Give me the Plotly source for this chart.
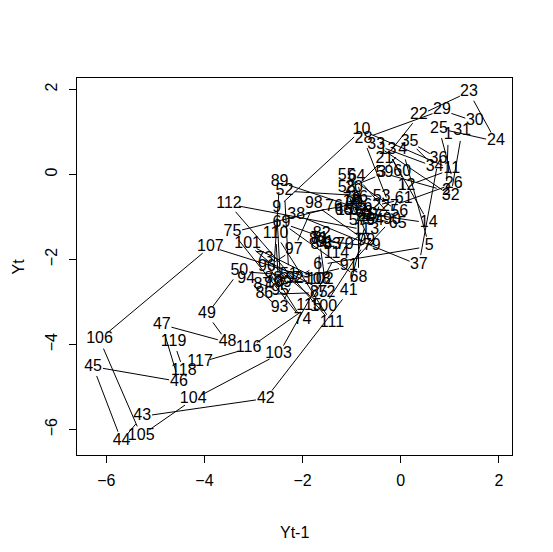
import numpy as np
import plotly.graph_objects as go

# series Y_t, t = 0..119 (label t sits at (Y_{t-1}, Y_t))
yt = [
    0.97, 0.93, -0.39, 0.04, 0.58, -1.69, -2.13, -2.45, -2.53, -0.80,
    1.04, 0.12, -0.27, 0.57, -1.14, -0.85, -0.55, -1.00, -0.65, -0.95,
    -0.33, 0.37, 1.39, 1.94, 0.78, 1.08, -0.22, -0.76, 0.84, 1.51,
    1.25, 1.02, -0.50, 0.69, 0.18, 0.77, 0.37, -2.13, -0.95, -0.70,
    -1.06, -2.75, -5.27, -5.69, -6.27, -4.52, -4.87, -3.53, -3.95, -3.29,
    -2.28, -2.37, -0.39, -0.53, -1.10, -0.03, -0.88, -1.10, -0.33, 0.03,
    0.06, -0.58, -0.75, -0.90, -0.06, -1.17, -0.86, -0.86, -2.43, -1.14,
    -1.66, -1.51, -2.78, -2.00, -3.43, -1.36, -0.77, -1.00, -0.59, -1.69,
    -1.55, -1.61, -1.40, -1.66, -1.67, -2.78, -2.82, -2.60, -2.47, -0.18,
    -1.06, -2.16, -2.47, -3.15, -2.46, -2.73, -2.18, -1.77, -0.70, -1.57,
    -3.12, -1.64, -2.49, -4.23, -5.29, -6.14, -3.88, -1.70, -2.49, -2.55,
    -1.40, -3.50, -0.70, -1.31, -1.87, -3.10, -4.09, -4.42, -4.63, -3.93,
]
lag_x = yt[:-1]
lag_y = yt[1:]
labels = [str(i) for i in range(1, len(yt))]
x_ticks = [-6, -4, -2, 0, 2]
y_ticks = [-6, -4, -2, 0, 2]

# page body has an 8px margin, so the figure is 8px smaller than the window
W, H = 545, 544
M = dict(l=69, r=41, t=70, b=97)
FONT = 'Liberation Sans, Arial, sans-serif'


def r_range(v):
    lo, hi = min(v), max(v)
    pad = 0.04 * (hi - lo)
    return [lo - pad, hi + pad]


xr = r_range(lag_x)
yr = r_range(lag_y)

# type="c" style lines: leave a gap round each label
pw = W - M['l'] - M['r']
ph = H - M['t'] - M['b']
kx = pw / (xr[1] - xr[0])
ky = ph / (yr[1] - yr[0])
GAP = 10
seg_x, seg_y = [], []
for i in range(len(lag_x) - 1):
    x0, y0, x1, y1 = lag_x[i], lag_y[i], lag_x[i + 1], lag_y[i + 1]
    d = np.hypot((x1 - x0) * kx, (y1 - y0) * ky)
    if d == 0:
        continue
    f = GAP / d
    if f < 0.5:
        seg_x += [x0 + f * (x1 - x0), x1 - f * (x1 - x0), None]
        seg_y += [y0 + f * (y1 - y0), y1 - f * (y1 - y0), None]

fig = go.Figure()
fig.add_trace(go.Scatter(
    x=seg_x, y=seg_y, mode='lines',
    line=dict(color='black', width=1),
    hoverinfo='skip', showlegend=False,
))
fig.add_trace(go.Scatter(
    x=lag_x, y=lag_y, mode='text', text=labels,
    textposition='middle center',
    textfont=dict(family=FONT, size=16, color='black'),
    showlegend=False,
))

axis_common = dict(
    showgrid=False, zeroline=False,
    showline=True, mirror=True, linecolor='black', linewidth=1,
    ticks='outside', ticklen=7, tickwidth=1, tickcolor='black',
    tickfont=dict(family=FONT, size=16, color='black'),
)
fig.update_layout(
    width=W, height=H,
    margin=M,
    paper_bgcolor='white', plot_bgcolor='white',
    xaxis=dict(range=xr, tickvals=x_ticks, ticklabelstandoff=4, **axis_common),
    yaxis=dict(range=yr, tickvals=y_ticks, tickangle=-90, ticklabelstandoff=6,
               **axis_common),
    annotations=[
        dict(text='Yt-1', x=0.5, y=0, xref='paper', yref='paper',
             xanchor='center', yanchor='middle', yshift=-77, showarrow=False,
             font=dict(family=FONT, size=16, color='black')),
        dict(text='Yt', x=0, y=0.5, xref='paper', yref='paper',
             xanchor='center', yanchor='middle', xshift=-59, textangle=-90,
             showarrow=False, font=dict(family=FONT, size=16, color='black')),
    ],
)

fig.write_html("out.html")
